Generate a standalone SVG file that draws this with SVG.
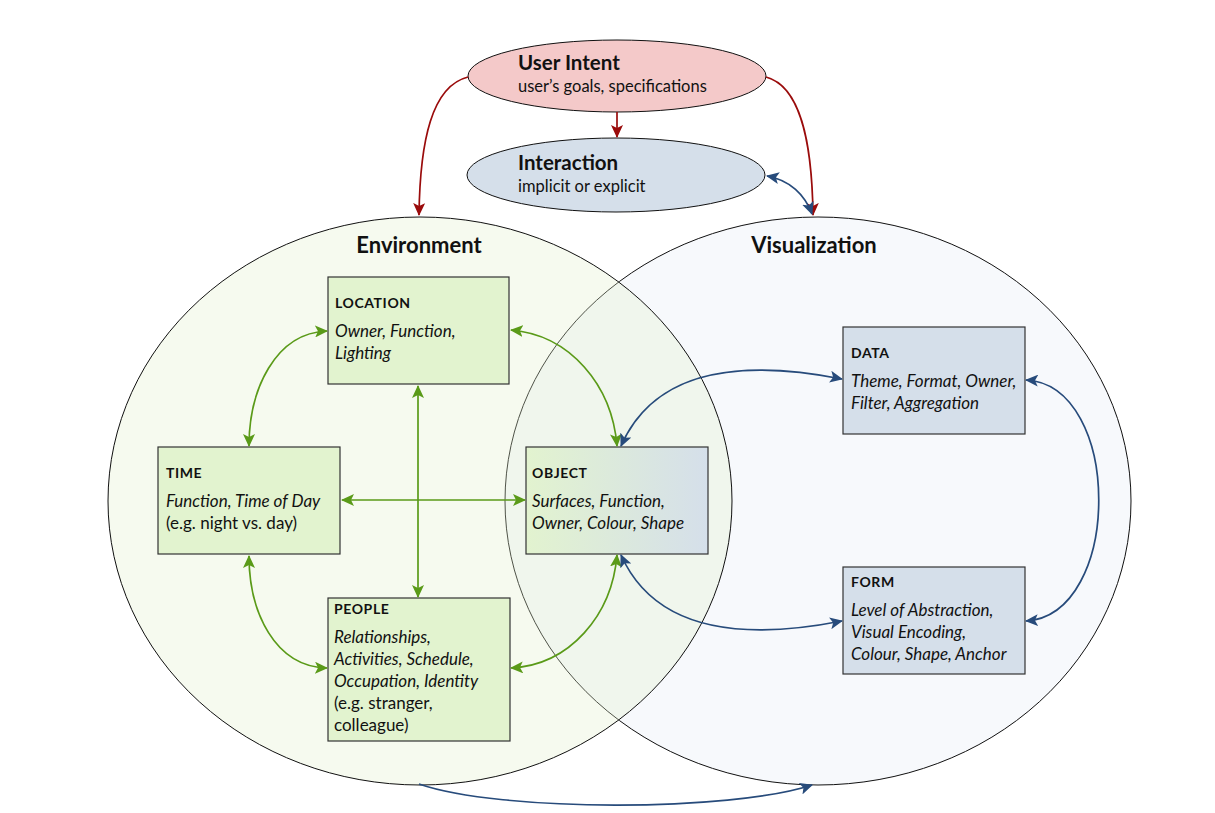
<svg xmlns="http://www.w3.org/2000/svg" width="1215" height="813" viewBox="0 0 1215 813">
<style>
text{font-family:Lato,"Open Sans","Liberation Sans",sans-serif;fill:#111}
.big{font-size:22px;font-weight:bold}
.h{font-size:20.5px;font-weight:bold}
.s{font-size:16.5px}
.t{font-size:14px;font-weight:bold;letter-spacing:0.6px}
.i{font-size:17px;font-style:italic}
.r{font-size:17px}
.g{fill:#e2f3cf;stroke:#333;stroke-width:1.2}
.b{fill:#d5dfea;stroke:#333;stroke-width:1.2}
.cg{fill:none;stroke:#5a9a18;stroke-width:1.7}
.cb{fill:none;stroke:#274b7b;stroke-width:1.7}
.cr{fill:none;stroke:#9a0b0b;stroke-width:1.7}
</style>
<defs>
<marker id="ag" markerUnits="userSpaceOnUse" markerWidth="14" markerHeight="12" refX="12" refY="6" orient="auto-start-reverse"><path d="M0,0 L13,6 L0,12 L3,6 z" fill="#5a9a18"/></marker>
<marker id="ab" markerUnits="userSpaceOnUse" markerWidth="14" markerHeight="12" refX="12" refY="6" orient="auto-start-reverse"><path d="M0,0 L13,6 L0,12 L3,6 z" fill="#274b7b"/></marker>
<marker id="ar" markerUnits="userSpaceOnUse" markerWidth="14" markerHeight="12" refX="12" refY="6" orient="auto-start-reverse"><path d="M0,0 L13,6 L0,12 L3,6 z" fill="#9a0b0b"/></marker>
<linearGradient id="og" x1="0" y1="0" x2="1" y2="0"><stop offset="0" stop-color="#e2f3cf"/><stop offset="1" stop-color="#d5dfea"/></linearGradient>
</defs>
<rect width="1215" height="813" fill="#fff"/>
<g id="visualization">
<ellipse cx="818" cy="501" rx="313" ry="284" fill="#d3ddee" fill-opacity="0.18" stroke="#111" stroke-width="1"/>
</g>
<g id="environment">
<ellipse cx="420" cy="501" rx="312" ry="284" fill="#e0eecb" fill-opacity="0.3" stroke="#111" stroke-width="1"/>
</g>
<text class="big" x="419" y="253" text-anchor="middle">Environment</text>
<text class="big" x="814" y="253" text-anchor="middle">Visualization</text>
<g id="user-intent">
<ellipse cx="617" cy="76" rx="149" ry="36" fill="#f4c9c9" stroke="#111" stroke-width="1"/>
<text class="h" x="518" y="70">User Intent</text>
<text class="s" x="518" y="92">user’s goals, specifications</text>
</g>
<g id="interaction">
<ellipse cx="616" cy="175" rx="149" ry="37" fill="#d5dfea" stroke="#111" stroke-width="1"/>
<text class="h" x="518" y="170">Interaction</text>
<text class="s" x="518" y="192">implicit or explicit</text>
</g>
<g id="location">
<rect class="g" x="328" y="277" width="181" height="107"/>
<text class="t" x="335" y="308">LOCATION</text>
<text class="i" x="335" y="337">Owner, Function,</text>
<text class="i" x="335" y="359">Lighting</text>
</g>
<g id="time">
<rect class="g" x="158" y="447" width="182" height="107"/>
<text class="t" x="166" y="478">TIME</text>
<text class="i" x="166" y="507">Function, Time of Day</text>
<text class="r" x="166" y="529">(e.g. night vs. day)</text>
</g>
<g id="object">
<rect x="526" y="447" width="182" height="107" fill="url(#og)" stroke="#333" stroke-width="1.2"/>
<text class="t" x="532" y="478">OBJECT</text>
<text class="i" x="532" y="507">Surfaces, Function,</text>
<text class="i" x="532" y="529">Owner, Colour, Shape</text>
</g>
<g id="people">
<rect class="g" x="328" y="598" width="182" height="143"/>
<text class="t" x="334" y="614">PEOPLE</text>
<text class="i" x="334" y="643">Relationships,</text>
<text class="i" x="334" y="665">Activities, Schedule,</text>
<text class="i" x="334" y="687">Occupation, Identity</text>
<text class="r" x="334" y="709">(e.g. stranger,</text>
<text class="r" x="334" y="731">colleague)</text>
</g>
<g id="data">
<rect class="b" x="843" y="327" width="182" height="107"/>
<text class="t" x="851" y="358">DATA</text>
<text class="i" x="851" y="387">Theme, Format, Owner,</text>
<text class="i" x="851" y="409">Filter, Aggregation</text>
</g>
<g id="form">
<rect class="b" x="843" y="567" width="182" height="107"/>
<text class="t" x="851" y="587">FORM</text>
<text class="i" x="851" y="616">Level of Abstraction,</text>
<text class="i" x="851" y="638">Visual Encoding,</text>
<text class="i" x="851" y="660">Colour, Shape, Anchor</text>
</g>
<g id="connectors">
<path class="cr" d="M468,77 C432,86 420,140 419,215" marker-end="url(#ar)"/>
<path class="cr" d="M617,112 L617,137" marker-end="url(#ar)"/>
<path class="cr" d="M766,77 C800,86 812,140 813,215" marker-end="url(#ar)"/>
<path class="cb" d="M767,176 C790,180 805,195 812,214" marker-start="url(#ab)" marker-end="url(#ab)"/>
<path class="cg" d="M249,446 C249,390 275,333 327,331" marker-start="url(#ag)" marker-end="url(#ag)"/>
<path class="cg" d="M249,556 C249,612 275,667 327,668" marker-start="url(#ag)" marker-end="url(#ag)"/>
<path class="cg" d="M511,330 C570,335 612,385 617,446" marker-start="url(#ag)" marker-end="url(#ag)"/>
<path class="cg" d="M511,668 C570,665 612,615 617,555" marker-start="url(#ag)" marker-end="url(#ag)"/>
<path class="cg" d="M418,386 L418,597" marker-start="url(#ag)" marker-end="url(#ag)"/>
<path class="cg" d="M342,500 L525,500" marker-start="url(#ag)" marker-end="url(#ag)"/>
<path class="cb" d="M621,446 C650,380 720,355 842,379" marker-start="url(#ab)" marker-end="url(#ab)"/>
<path class="cb" d="M621,555 C650,620 720,645 842,621" marker-start="url(#ab)" marker-end="url(#ab)"/>
<path class="cb" d="M1026,380 C1123,385 1123,615 1026,621" marker-start="url(#ab)" marker-end="url(#ab)"/>
<path class="cb" d="M419,784 C500,812 730,812 812,785" marker-end="url(#ab)"/>
</g>
</svg>
